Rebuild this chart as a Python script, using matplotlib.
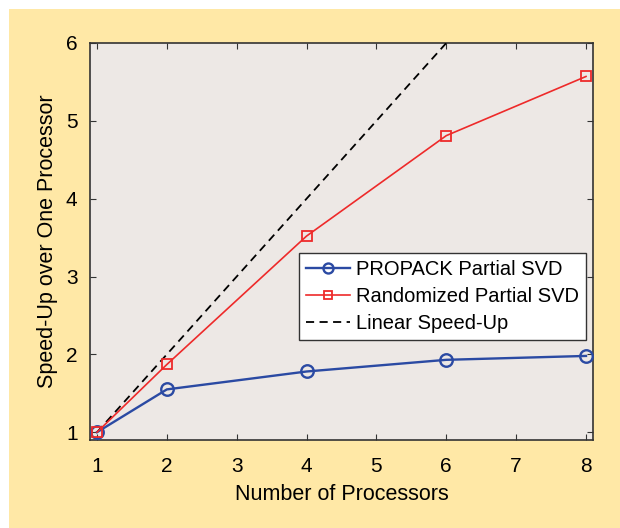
import numpy as np
import matplotlib
matplotlib.use("Agg")
import matplotlib.pyplot as plt
from matplotlib.patches import Rectangle

plt.rcParams['font.family'] = ['Liberation Sans', 'DejaVu Sans']

procs = [1, 2, 4, 6, 8]
propack = [1.0, 1.55, 1.78, 1.93, 1.98]
randomized = [1.0, 1.87, 3.52, 4.81, 5.57]
linear_x = [1, 8]
linear_y = [1, 8]
xticks = [1, 2, 3, 4, 5, 6, 7, 8]
yticks = [1, 2, 3, 4, 5, 6]

fig = plt.figure(figsize=(6.2, 5.28), dpi=100)
fig.patch.set_facecolor('white')
# yellow panel with a thin white margin on top/left
fig.patches.append(Rectangle((9/620, 0), 1 - 9/620, 1 - 9/528, transform=fig.transFigure,
                             facecolor='#FFE8A6', edgecolor='none', zorder=-10))

ax = fig.add_axes([90/620, 1 - 440/528, 503/620, 397/528])
ax.set_facecolor('#EDE8E5')

ax.plot(procs, propack, color='#2B4AA3', lw=1.7, marker='o', ms=9, mfc='none',
        mec='#2B4AA3', mew=1.7, label='PROPACK Partial SVD', zorder=4)
ax.plot(procs, randomized, color='#EE2A2A', lw=1.2, marker='s', ms=7, mfc='none',
        mec='#EE2A2A', mew=1.3, label='Randomized Partial SVD', zorder=5)
ax.plot(linear_x, linear_y, color='black', lw=1.3, ls=(0, (4.5, 3)), label='Linear Speed-Up', zorder=3)

ax.set_xlim(0.9, 8.1)
ax.set_ylim(0.9, 6.0)
ax.set_xticks(xticks)
ax.set_yticks(yticks)
ax.tick_params(direction='in', top=True, right=True, length=4, width=0.8,
               labelsize=15, color='#333333')
ax.tick_params(axis='x', pad=12)
ax.tick_params(axis='y', pad=9)
for s in ax.spines.values():
    s.set_color('#333333')
    s.set_linewidth(1.2)

ax.set_xlabel('Number of Processors', fontsize=15.5, labelpad=6)
ax.set_ylabel('Speed-Up over One Processor', fontsize=15.5, labelpad=6)

leg = ax.legend(loc='upper right', bbox_to_anchor=(0.986, 0.471), borderaxespad=0,
                fontsize=14.5, fancybox=False, framealpha=1, edgecolor='#333333',
                handlelength=2.2, labelspacing=0.4, borderpad=0.35, handletextpad=0.3,
                markerscale=0.8)
leg.get_frame().set_linewidth(1.0)

fig.savefig('out.png', dpi=100, facecolor=fig.get_facecolor())
